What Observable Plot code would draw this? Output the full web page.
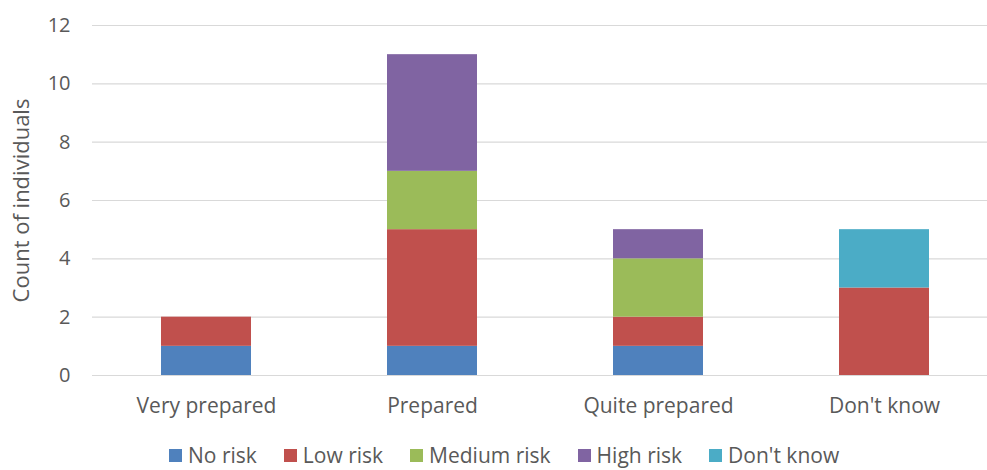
<!DOCTYPE html>
<html>
<head>
<meta charset="utf-8">
<script src="https://cdn.jsdelivr.net/npm/d3@7"></script>
<script src="https://cdn.jsdelivr.net/npm/@observablehq/plot@0.6"></script>
<style>
  body { margin: 0; background: #fff; font-family: "Open Sans", sans-serif; }
  #chart { position: relative; width: 987px; height: 470px; overflow: hidden; }
  #chart svg { position: absolute; left: 0; top: 0; }
  .legend { position: absolute; left: 169px; top: 445px; display: flex; align-items: center; font-size: 21px; line-height: 20px; color: #595959; white-space: nowrap; }
  .legend .item { display: flex; align-items: center; margin-right: 27px; }
  .legend .swatch { width: 13px; height: 13px; margin-right: 6px; }
</style>
</head>
<body>
<div id="chart"></div>
<script>
// Preparedness categories along the x axis
const categories = ["Very prepared", "Prepared", "Quite prepared", "Don't know"];
// Risk levels stacked in each bar (bottom to top)
const series = ["No risk", "Low risk", "Medium risk", "High risk", "Don't know"];
const colors = ["#4F81BD", "#C0504D", "#9BBB59", "#8064A2", "#4BACC6"];
// Counts per category for each risk level
const noRisk     = [1, 1, 1, 0];
const lowRisk    = [1, 4, 1, 3];
const mediumRisk = [0, 2, 2, 0];
const highRisk   = [0, 4, 1, 0];
const dontKnow   = [0, 0, 0, 2];
const yTicks = [0, 2, 4, 6, 8, 10, 12];
const yTitle = "Count of individuals";

const seriesValues = [noRisk, lowRisk, mediumRisk, highRisk, dontKnow];
const rows = [];
series.forEach((s, i) => {
  categories.forEach((c, j) => {
    if (seriesValues[i][j] > 0) rows.push({category: c, risk: s, count: seriesValues[i][j]});
  });
});

const width = 987;
const plot = Plot.plot({
  width,
  height: 430,
  marginTop: 25,
  marginBottom: 55,
  marginLeft: 92,
  marginRight: 0,
  style: {fontFamily: "'Open Sans', sans-serif", fontSize: "20px", color: "#595959", background: "transparent"},
  x: {domain: categories, range: [92, 998.7], paddingInner: 0.6, paddingOuter: 0.3, label: null},
  y: {domain: [0, 12], label: null},
  color: {domain: series, range: colors},
  marks: [
    Plot.ruleY(yTicks, {stroke: "#d9d9d9", strokeWidth: 1.2}),
    Plot.barY(rows, {x: "category", y: "count", fill: "risk", order: series}),
    Plot.axisY(yTicks, {tickSize: 0, tickPadding: 22, fontSize: 20, fill: "#595959", label: null}),
    Plot.axisX({tickSize: 0, tickPadding: 23, fontSize: 21, fill: "#595959", label: null}),
    Plot.text([yTitle], {frameAnchor: "left", textAnchor: "middle", rotate: -90, dx: -71, fontSize: 22, fill: "#595959"})
  ]
});

const chart = document.getElementById("chart");
chart.appendChild(plot);

const legend = document.createElement("div");
legend.className = "legend";
series.forEach((s, i) => {
  const item = document.createElement("div");
  item.className = "item";
  const sw = document.createElement("span");
  sw.className = "swatch";
  sw.style.background = colors[i];
  const label = document.createElement("span");
  label.textContent = s;
  item.append(sw, label);
  legend.appendChild(item);
});
chart.appendChild(legend);
</script>
</body>
</html>
